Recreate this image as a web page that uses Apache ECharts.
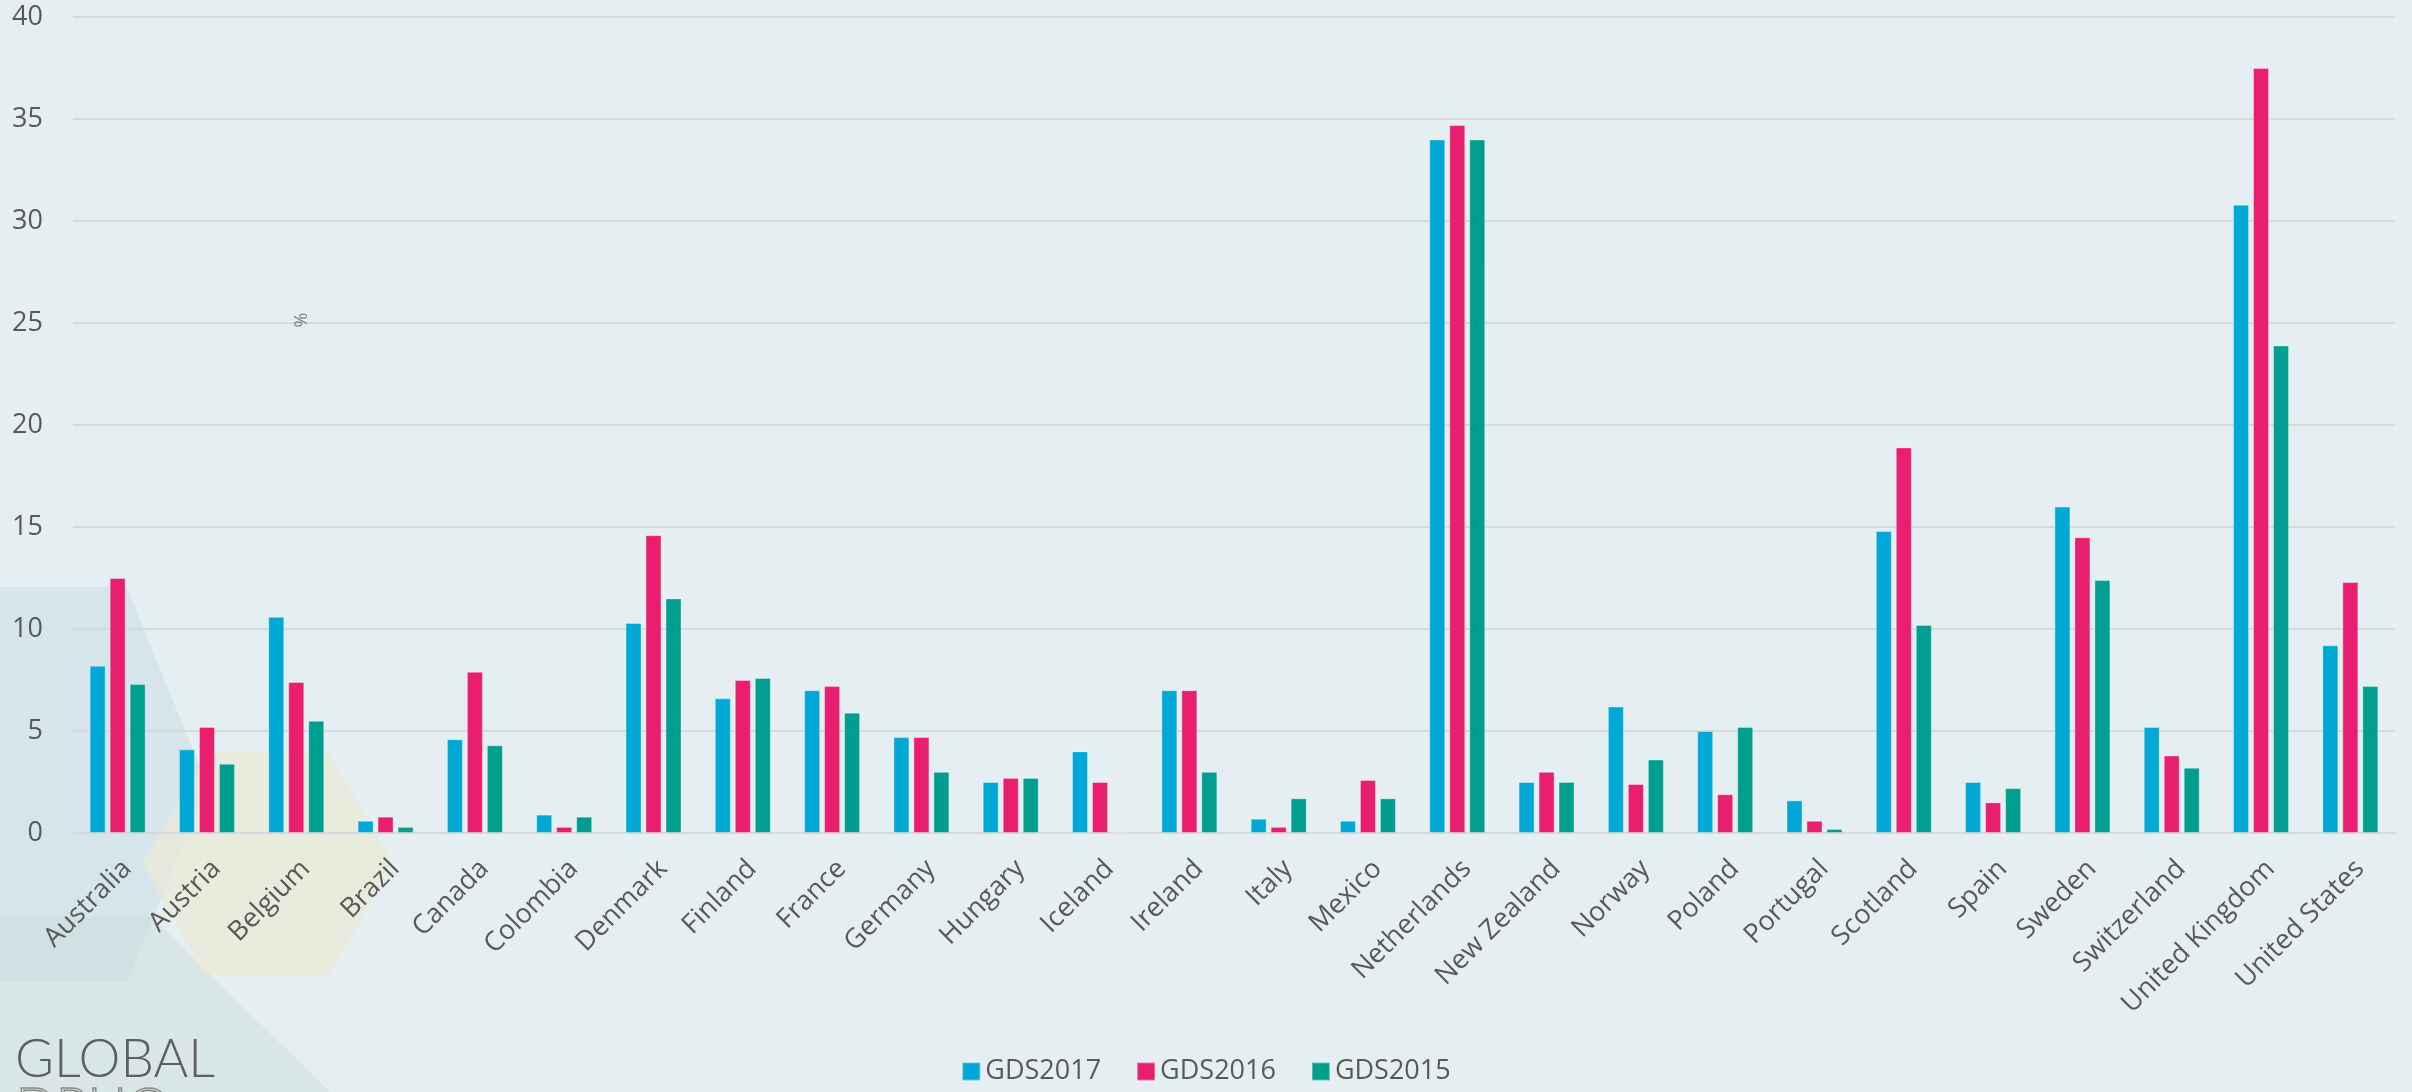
<!DOCTYPE html>
<html>
<head>
<meta charset="utf-8">
<script src="https://cdn.jsdelivr.net/npm/echarts@6/dist/echarts.min.js"></script>
<style>
html,body{margin:0;padding:0;background:#E5EEF0;}
#chart{width:2412px;height:1092px;}
</style>
</head>
<body>
<div id="chart"></div>
<script>
var categories = ['Australia','Austria','Belgium','Brazil','Canada','Colombia','Denmark','Finland','France','Germany','Hungary','Iceland','Ireland','Italy','Mexico','Netherlands','New Zealand','Norway','Poland','Portugal','Scotland','Spain','Sweden','Switzerland','United Kingdom','United States'];
var gds2017 = [8.2,4.1,10.6,0.6,4.6,0.9,10.3,6.6,7.0,4.7,2.5,4.0,7.0,0.7,0.6,34.0,2.5,6.2,5.0,1.6,14.8,2.5,16.0,5.2,30.8,9.2];
var gds2016 = [12.5,5.2,7.4,0.8,7.9,0.3,14.6,7.5,7.2,4.7,2.7,2.5,7.0,0.3,2.6,34.7,3.0,2.4,1.9,0.6,18.9,1.5,14.5,3.8,37.5,12.3];
var gds2015 = [7.3,3.4,5.5,0.3,4.3,0.8,11.5,7.6,5.9,3.0,2.7,0,3.0,1.7,1.7,34.0,2.5,3.6,5.2,0.2,10.2,2.2,12.4,3.2,23.9,7.2];
var seriesNames = ['GDS2017','GDS2016','GDS2015'];
var seriesColors = ['#00A8D6','#E91E6E','#009E8E'];
var yTicks = {min:0, max:40, interval:5};

var chart = echarts.init(document.getElementById('chart'));
var font = '"Open Sans", "Noto Sans", sans-serif';
var textColor = '#595959';

function mkSeries(name, data, color){
  return {
    name: name, type: 'bar', data: data,
    barWidth: 16, barGap: '25%',
    itemStyle: {color: color, borderColor: 'rgba(255,255,255,0.35)', borderWidth: 1},
    z: 3
  };
}

chart.setOption({
  backgroundColor: '#E5EEF0',
  animation: false,
  graphic: [
    {type:'polygon', z:-10, silent:true,
     shape:{points:[[0,587],[127,587],[207,785],[127,982],[0,982]]},
     style:{fill:'rgba(196,216,228,0.45)'}},
    {type:'polygon', z:-10, silent:true,
     shape:{points:[[0,917],[152,917],[330,1092],[0,1092]]},
     style:{fill:'rgba(200,222,214,0.45)'}},
    {type:'polygon', z:-10, silent:true,
     shape:{points:[[142,863],[210,751],[328,751],[392,863],[330,975],[205,975]]},
     style:{fill:'rgba(233,233,214,0.75)'}},
    {type:'text', z:5, silent:true, left:15, top:1033,
     style:{text:'GLOBAL', font:'300 53px Lato, "Open Sans", sans-serif', fill:'#5E5E5E'}},
    {type:'text', z:5, silent:true, left:15, top:1082,
     style:{text:'DRUG', font:'300 53px Lato, "Open Sans", sans-serif', fill:'none', stroke:'#8A8A8A', lineWidth:1.5}},
    {type:'text', z:5, silent:true, x:302, y:320, rotation:Math.PI/2,
     style:{text:'%', font:'18px ' + font, fill:'#7F7F7F', align:'center', verticalAlign:'middle'}}
  ],
  grid: {left:73, right:17, top:17, bottom:259, containLabel:false},
  legend: {
    data: seriesNames,
    left: 'center', bottom: 2,
    icon: 'rect', itemWidth: 18, itemHeight: 18, itemGap: 35,
    textStyle: {fontFamily: font, fontSize: 27, color: textColor, padding:[0,0,0,0]}
  },
  xAxis: {
    type: 'category', data: categories,
    axisLine: {show:true, lineStyle:{color:'#D6D8D9', width:2}},
    axisTick: {show:false},
    axisLabel: {interval:0, rotate:45, margin:22, verticalAlign:'top', fontFamily:font, fontSize:27, color:textColor}
  },
  yAxis: {
    type: 'value', min: yTicks.min, max: yTicks.max, interval: yTicks.interval,
    axisLine: {show:false}, axisTick: {show:false},
    axisLabel: {margin:30, fontFamily:font, fontSize:27, color:textColor},
    splitLine: {lineStyle:{color:'#D6D8D9', width:2}}
  },
  series: [
    mkSeries(seriesNames[0], gds2017, seriesColors[0]),
    mkSeries(seriesNames[1], gds2016, seriesColors[1]),
    mkSeries(seriesNames[2], gds2015, seriesColors[2])
  ]
});
</script>
</body>
</html>
